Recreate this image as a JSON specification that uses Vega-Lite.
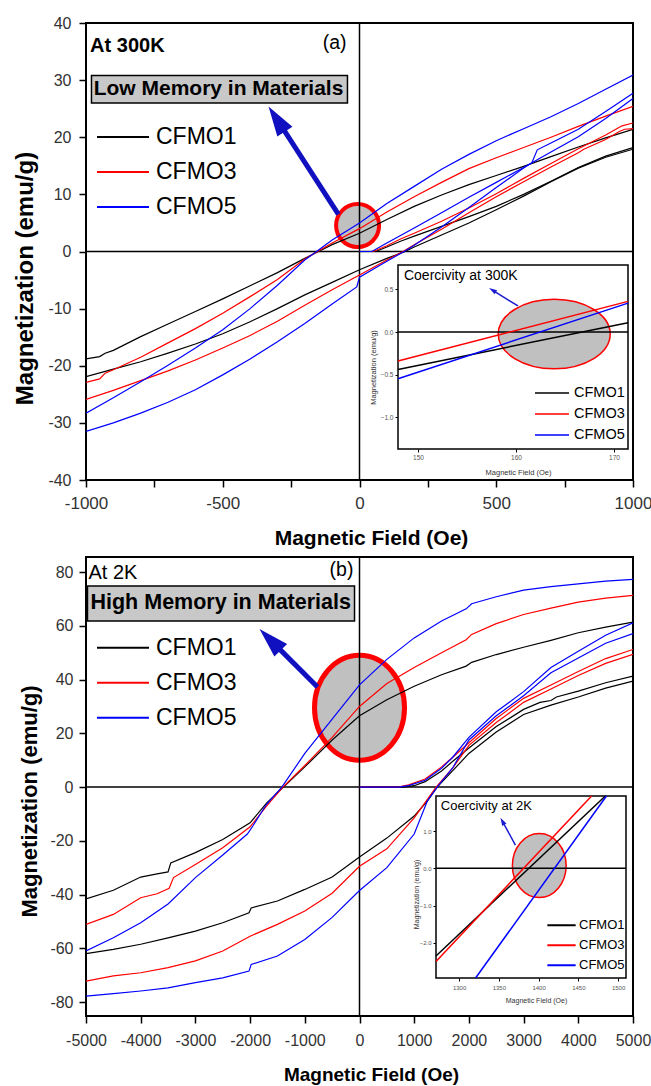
{
 "$schema": "https://vega.github.io/schema/vega-lite/v6.json",
 "background": "white",
 "padding": {"left": 12, "top": 14, "right": 0, "bottom": 0},
 "spacing": 77,
 "bounds": "flush",
 "config": {
  "font": "Liberation Sans",
  "view": {"stroke": "black", "strokeWidth": 2},
  "axis": {"grid": false, "domain": false, "labelFont": "Liberation Sans", "titleFont": "Liberation Sans", "tickColor": "black", "tickWidth": 1.5, "labelColor": "#333333", "titleColor": "#000000", "labelFlush": false, "labelOverlap": false, "labelBound": false},
  "legend": {"labelFont": "Liberation Sans", "labelColor": "black"}
 },
 "datasets": {
  "top": [
   {"s":"CFMO1","b":"u","h":-1000,"m":-18.8},{"s":"CFMO1","b":"u","h":-950,"m":-18.4},{"s":"CFMO1","b":"u","h":-930,"m":-17.8},{"s":"CFMO1","b":"u","h":-900,"m":-17.3},{"s":"CFMO1","b":"u","h":-800,"m":-14.9},{"s":"CFMO1","b":"u","h":-700,"m":-12.7},{"s":"CFMO1","b":"u","h":-600,"m":-10.5},{"s":"CFMO1","b":"u","h":-500,"m":-8.3},{"s":"CFMO1","b":"u","h":-400,"m":-6.0},{"s":"CFMO1","b":"u","h":-300,"m":-3.7},{"s":"CFMO1","b":"u","h":-200,"m":-1.2},{"s":"CFMO1","b":"u","h":-100,"m":1.2},{"s":"CFMO1","b":"u","h":0,"m":3.2},{"s":"CFMO1","b":"u","h":100,"m":5.6},{"s":"CFMO1","b":"u","h":200,"m":7.9},{"s":"CFMO1","b":"u","h":300,"m":9.9},{"s":"CFMO1","b":"u","h":400,"m":11.7},{"s":"CFMO1","b":"u","h":500,"m":13.3},{"s":"CFMO1","b":"u","h":600,"m":14.9},{"s":"CFMO1","b":"u","h":700,"m":16.6},{"s":"CFMO1","b":"u","h":800,"m":18.3},{"s":"CFMO1","b":"u","h":900,"m":19.9},{"s":"CFMO1","b":"u","h":1000,"m":21.4},
   {"s":"CFMO1","b":"l","h":-1000,"m":-21.9},{"s":"CFMO1","b":"l","h":-900,"m":-20.6},{"s":"CFMO1","b":"l","h":-800,"m":-19.3},{"s":"CFMO1","b":"l","h":-700,"m":-17.8},{"s":"CFMO1","b":"l","h":-600,"m":-16.2},{"s":"CFMO1","b":"l","h":-500,"m":-14.4},{"s":"CFMO1","b":"l","h":-400,"m":-12.3},{"s":"CFMO1","b":"l","h":-300,"m":-10.0},{"s":"CFMO1","b":"l","h":-200,"m":-7.6},{"s":"CFMO1","b":"l","h":-100,"m":-5.4},{"s":"CFMO1","b":"l","h":0,"m":-3.2},{"s":"CFMO1","b":"l","h":100,"m":-1.2},{"s":"CFMO1","b":"l","h":167,"m":0},{"s":"CFMO1","b":"l","h":200,"m":0.8},{"s":"CFMO1","b":"l","h":300,"m":2.9},{"s":"CFMO1","b":"l","h":400,"m":5.0},{"s":"CFMO1","b":"l","h":500,"m":7.3},{"s":"CFMO1","b":"l","h":600,"m":9.7},{"s":"CFMO1","b":"l","h":700,"m":12.2},{"s":"CFMO1","b":"l","h":800,"m":14.6},{"s":"CFMO1","b":"l","h":900,"m":16.5},{"s":"CFMO1","b":"l","h":1000,"m":17.9},
   {"s":"CFMO1","b":"v","h":0,"m":0},{"s":"CFMO1","b":"v","h":60,"m":0},{"s":"CFMO1","b":"v","h":100,"m":0.8},{"s":"CFMO1","b":"v","h":150,"m":1.8},{"s":"CFMO1","b":"v","h":200,"m":2.7},{"s":"CFMO1","b":"v","h":300,"m":4.4},{"s":"CFMO1","b":"v","h":400,"m":6.1},{"s":"CFMO1","b":"v","h":500,"m":7.9},{"s":"CFMO1","b":"v","h":600,"m":10.0},{"s":"CFMO1","b":"v","h":700,"m":12.3},{"s":"CFMO1","b":"v","h":800,"m":14.7},{"s":"CFMO1","b":"v","h":900,"m":16.7},{"s":"CFMO1","b":"v","h":1000,"m":18.2},
   {"s":"CFMO3","b":"u","h":-1000,"m":-22.9},{"s":"CFMO3","b":"u","h":-950,"m":-22.3},{"s":"CFMO3","b":"u","h":-930,"m":-21.3},{"s":"CFMO3","b":"u","h":-900,"m":-20.7},{"s":"CFMO3","b":"u","h":-800,"m":-18.5},{"s":"CFMO3","b":"u","h":-700,"m":-16.0},{"s":"CFMO3","b":"u","h":-600,"m":-13.5},{"s":"CFMO3","b":"u","h":-500,"m":-10.8},{"s":"CFMO3","b":"u","h":-400,"m":-7.9},{"s":"CFMO3","b":"u","h":-300,"m":-4.9},{"s":"CFMO3","b":"u","h":-200,"m":-1.3},{"s":"CFMO3","b":"u","h":-100,"m":1.5},{"s":"CFMO3","b":"u","h":0,"m":4.0},{"s":"CFMO3","b":"u","h":100,"m":6.9},{"s":"CFMO3","b":"u","h":200,"m":9.6},{"s":"CFMO3","b":"u","h":300,"m":12.1},{"s":"CFMO3","b":"u","h":400,"m":14.5},{"s":"CFMO3","b":"u","h":500,"m":16.4},{"s":"CFMO3","b":"u","h":600,"m":18.2},{"s":"CFMO3","b":"u","h":700,"m":20.0},{"s":"CFMO3","b":"u","h":800,"m":21.9},{"s":"CFMO3","b":"u","h":900,"m":23.7},{"s":"CFMO3","b":"u","h":1000,"m":25.4},
   {"s":"CFMO3","b":"l","h":-1000,"m":-25.9},{"s":"CFMO3","b":"l","h":-900,"m":-24.3},{"s":"CFMO3","b":"l","h":-800,"m":-22.6},{"s":"CFMO3","b":"l","h":-700,"m":-20.9},{"s":"CFMO3","b":"l","h":-600,"m":-19.0},{"s":"CFMO3","b":"l","h":-500,"m":-16.9},{"s":"CFMO3","b":"l","h":-400,"m":-14.7},{"s":"CFMO3","b":"l","h":-300,"m":-12.2},{"s":"CFMO3","b":"l","h":-200,"m":-9.4},{"s":"CFMO3","b":"l","h":-100,"m":-6.7},{"s":"CFMO3","b":"l","h":0,"m":-4.1},{"s":"CFMO3","b":"l","h":100,"m":-1.5},{"s":"CFMO3","b":"l","h":159,"m":0},{"s":"CFMO3","b":"l","h":200,"m":1.2},{"s":"CFMO3","b":"l","h":300,"m":3.9},{"s":"CFMO3","b":"l","h":400,"m":6.8},{"s":"CFMO3","b":"l","h":500,"m":9.6},{"s":"CFMO3","b":"l","h":600,"m":12.2},{"s":"CFMO3","b":"l","h":700,"m":14.8},{"s":"CFMO3","b":"l","h":800,"m":17.3},{"s":"CFMO3","b":"l","h":820,"m":17.9},{"s":"CFMO3","b":"l","h":900,"m":19.6},{"s":"CFMO3","b":"l","h":950,"m":21.0},{"s":"CFMO3","b":"l","h":970,"m":21.4},{"s":"CFMO3","b":"l","h":1000,"m":21.5},
   {"s":"CFMO3","b":"v","h":0,"m":0},{"s":"CFMO3","b":"v","h":50,"m":0},{"s":"CFMO3","b":"v","h":100,"m":1.0},{"s":"CFMO3","b":"v","h":150,"m":2.2},{"s":"CFMO3","b":"v","h":200,"m":3.2},{"s":"CFMO3","b":"v","h":300,"m":5.3},{"s":"CFMO3","b":"v","h":400,"m":7.6},{"s":"CFMO3","b":"v","h":500,"m":10.1},{"s":"CFMO3","b":"v","h":600,"m":12.8},{"s":"CFMO3","b":"v","h":700,"m":15.4},{"s":"CFMO3","b":"v","h":800,"m":18.0},{"s":"CFMO3","b":"v","h":900,"m":20.4},{"s":"CFMO3","b":"v","h":960,"m":22.0},{"s":"CFMO3","b":"v","h":1000,"m":22.5},
   {"s":"CFMO5","b":"u","h":-1000,"m":-28.3},{"s":"CFMO5","b":"u","h":-900,"m":-25.6},{"s":"CFMO5","b":"u","h":-800,"m":-22.8},{"s":"CFMO5","b":"u","h":-700,"m":-19.9},{"s":"CFMO5","b":"u","h":-600,"m":-16.9},{"s":"CFMO5","b":"u","h":-500,"m":-13.7},{"s":"CFMO5","b":"u","h":-400,"m":-10.0},{"s":"CFMO5","b":"u","h":-300,"m":-5.9},{"s":"CFMO5","b":"u","h":-200,"m":-1.5},{"s":"CFMO5","b":"u","h":-100,"m":2.0},{"s":"CFMO5","b":"u","h":0,"m":5.0},{"s":"CFMO5","b":"u","h":100,"m":8.4},{"s":"CFMO5","b":"u","h":200,"m":11.4},{"s":"CFMO5","b":"u","h":300,"m":14.4},{"s":"CFMO5","b":"u","h":400,"m":17.0},{"s":"CFMO5","b":"u","h":500,"m":19.4},{"s":"CFMO5","b":"u","h":600,"m":21.5},{"s":"CFMO5","b":"u","h":700,"m":23.6},{"s":"CFMO5","b":"u","h":800,"m":25.9},{"s":"CFMO5","b":"u","h":900,"m":28.4},{"s":"CFMO5","b":"u","h":1000,"m":30.9},
   {"s":"CFMO5","b":"l","h":-1000,"m":-31.5},{"s":"CFMO5","b":"l","h":-900,"m":-30.0},{"s":"CFMO5","b":"l","h":-800,"m":-28.3},{"s":"CFMO5","b":"l","h":-700,"m":-26.4},{"s":"CFMO5","b":"l","h":-600,"m":-24.2},{"s":"CFMO5","b":"l","h":-500,"m":-21.6},{"s":"CFMO5","b":"l","h":-400,"m":-18.8},{"s":"CFMO5","b":"l","h":-300,"m":-15.8},{"s":"CFMO5","b":"l","h":-200,"m":-12.6},{"s":"CFMO5","b":"l","h":-100,"m":-9.2},{"s":"CFMO5","b":"l","h":-10,"m":-6.2},{"s":"CFMO5","b":"l","h":0,"m":-4.5},{"s":"CFMO5","b":"l","h":100,"m":-1.7},{"s":"CFMO5","b":"l","h":163,"m":0},{"s":"CFMO5","b":"l","h":200,"m":1.1},{"s":"CFMO5","b":"l","h":300,"m":4.3},{"s":"CFMO5","b":"l","h":400,"m":7.7},{"s":"CFMO5","b":"l","h":500,"m":11.2},{"s":"CFMO5","b":"l","h":600,"m":14.6},{"s":"CFMO5","b":"l","h":630,"m":15.5},{"s":"CFMO5","b":"l","h":650,"m":17.8},{"s":"CFMO5","b":"l","h":700,"m":19.0},{"s":"CFMO5","b":"l","h":800,"m":21.4},{"s":"CFMO5","b":"l","h":900,"m":24.5},{"s":"CFMO5","b":"l","h":1000,"m":27.7},
   {"s":"CFMO5","b":"v","h":0,"m":0},{"s":"CFMO5","b":"v","h":45,"m":0},{"s":"CFMO5","b":"v","h":100,"m":1.5},{"s":"CFMO5","b":"v","h":200,"m":4.1},{"s":"CFMO5","b":"v","h":300,"m":6.8},{"s":"CFMO5","b":"v","h":400,"m":9.5},{"s":"CFMO5","b":"v","h":500,"m":12.1},{"s":"CFMO5","b":"v","h":600,"m":14.7},{"s":"CFMO5","b":"v","h":700,"m":17.4},{"s":"CFMO5","b":"v","h":800,"m":20.1},{"s":"CFMO5","b":"v","h":900,"m":23.3},{"s":"CFMO5","b":"v","h":1000,"m":26.8}
  ],
  "bottom": [
   {"s":"CFMO1","b":"u","h":-5000,"m":-41.6},{"s":"CFMO1","b":"u","h":-4500,"m":-38.4},{"s":"CFMO1","b":"u","h":-4000,"m":-33.5},{"s":"CFMO1","b":"u","h":-3700,"m":-32.3},{"s":"CFMO1","b":"u","h":-3500,"m":-31.6},{"s":"CFMO1","b":"u","h":-3450,"m":-28.2},{"s":"CFMO1","b":"u","h":-3000,"m":-24.4},{"s":"CFMO1","b":"u","h":-2500,"m":-19.5},{"s":"CFMO1","b":"u","h":-2000,"m":-13.3},{"s":"CFMO1","b":"u","h":-1700,"m":-6.0},{"s":"CFMO1","b":"u","h":-1390,"m":0},{"s":"CFMO1","b":"u","h":-1000,"m":7.5},{"s":"CFMO1","b":"u","h":-500,"m":17.5},{"s":"CFMO1","b":"u","h":0,"m":26.5},{"s":"CFMO1","b":"u","h":500,"m":32.5},{"s":"CFMO1","b":"u","h":1000,"m":37.5},{"s":"CFMO1","b":"u","h":1500,"m":41.8},{"s":"CFMO1","b":"u","h":1950,"m":45.0},{"s":"CFMO1","b":"u","h":2050,"m":46.4},{"s":"CFMO1","b":"u","h":2500,"m":49.3},{"s":"CFMO1","b":"u","h":3000,"m":52.0},{"s":"CFMO1","b":"u","h":3500,"m":54.6},{"s":"CFMO1","b":"u","h":4000,"m":57.4},{"s":"CFMO1","b":"u","h":4500,"m":59.5},{"s":"CFMO1","b":"u","h":5000,"m":61.4},
   {"s":"CFMO1","b":"l","h":-5000,"m":-62.0},{"s":"CFMO1","b":"l","h":-4500,"m":-60.4},{"s":"CFMO1","b":"l","h":-4000,"m":-58.5},{"s":"CFMO1","b":"l","h":-3500,"m":-56.1},{"s":"CFMO1","b":"l","h":-3000,"m":-53.6},{"s":"CFMO1","b":"l","h":-2500,"m":-50.5},{"s":"CFMO1","b":"l","h":-2020,"m":-46.8},{"s":"CFMO1","b":"l","h":-1980,"m":-45.0},{"s":"CFMO1","b":"l","h":-1500,"m":-42.4},{"s":"CFMO1","b":"l","h":-1000,"m":-38.1},{"s":"CFMO1","b":"l","h":-500,"m":-33.5},{"s":"CFMO1","b":"l","h":0,"m":-26.0},{"s":"CFMO1","b":"l","h":500,"m":-19.0},{"s":"CFMO1","b":"l","h":1000,"m":-10.8},{"s":"CFMO1","b":"l","h":1240,"m":-5.2},{"s":"CFMO1","b":"l","h":1420,"m":0},{"s":"CFMO1","b":"l","h":1700,"m":6.0},{"s":"CFMO1","b":"l","h":2000,"m":12.5},{"s":"CFMO1","b":"l","h":2500,"m":20.5},{"s":"CFMO1","b":"l","h":3000,"m":27.0},{"s":"CFMO1","b":"l","h":3500,"m":30.5},{"s":"CFMO1","b":"l","h":4000,"m":33.5},{"s":"CFMO1","b":"l","h":4500,"m":36.8},{"s":"CFMO1","b":"l","h":5000,"m":39.4},
   {"s":"CFMO1","b":"v","h":0,"m":0},{"s":"CFMO1","b":"v","h":800,"m":0},{"s":"CFMO1","b":"v","h":1000,"m":0.5},{"s":"CFMO1","b":"v","h":1200,"m":2.0},{"s":"CFMO1","b":"v","h":1500,"m":6.0},{"s":"CFMO1","b":"v","h":1700,"m":9.5},{"s":"CFMO1","b":"v","h":2000,"m":14.5},{"s":"CFMO1","b":"v","h":2500,"m":22.5},{"s":"CFMO1","b":"v","h":3000,"m":28.9},{"s":"CFMO1","b":"v","h":3300,"m":31.5},{"s":"CFMO1","b":"v","h":3500,"m":32.2},{"s":"CFMO1","b":"v","h":3600,"m":33.5},{"s":"CFMO1","b":"v","h":4000,"m":35.7},{"s":"CFMO1","b":"v","h":4500,"m":38.8},{"s":"CFMO1","b":"v","h":5000,"m":41.3},
   {"s":"CFMO3","b":"u","h":-5000,"m":-51.1},{"s":"CFMO3","b":"u","h":-4500,"m":-47.4},{"s":"CFMO3","b":"u","h":-4000,"m":-41.2},{"s":"CFMO3","b":"u","h":-3700,"m":-39.7},{"s":"CFMO3","b":"u","h":-3480,"m":-37.7},{"s":"CFMO3","b":"u","h":-3400,"m":-33.7},{"s":"CFMO3","b":"u","h":-3000,"m":-28.8},{"s":"CFMO3","b":"u","h":-2500,"m":-22.6},{"s":"CFMO3","b":"u","h":-2000,"m":-14.8},{"s":"CFMO3","b":"u","h":-1700,"m":-7.1},{"s":"CFMO3","b":"u","h":-1400,"m":0},{"s":"CFMO3","b":"u","h":-1000,"m":8.0},{"s":"CFMO3","b":"u","h":-500,"m":18.5},{"s":"CFMO3","b":"u","h":0,"m":30.0},{"s":"CFMO3","b":"u","h":500,"m":38.5},{"s":"CFMO3","b":"u","h":1000,"m":44.5},{"s":"CFMO3","b":"u","h":1500,"m":50.0},{"s":"CFMO3","b":"u","h":1950,"m":54.8},{"s":"CFMO3","b":"u","h":2050,"m":56.8},{"s":"CFMO3","b":"u","h":2500,"m":60.8},{"s":"CFMO3","b":"u","h":3000,"m":64.2},{"s":"CFMO3","b":"u","h":3500,"m":66.6},{"s":"CFMO3","b":"u","h":4000,"m":68.8},{"s":"CFMO3","b":"u","h":4500,"m":70.3},{"s":"CFMO3","b":"u","h":5000,"m":71.3},
   {"s":"CFMO3","b":"l","h":-5000,"m":-72.2},{"s":"CFMO3","b":"l","h":-4500,"m":-70.3},{"s":"CFMO3","b":"l","h":-4000,"m":-69.1},{"s":"CFMO3","b":"l","h":-3500,"m":-67.2},{"s":"CFMO3","b":"l","h":-3000,"m":-64.7},{"s":"CFMO3","b":"l","h":-2500,"m":-61.0},{"s":"CFMO3","b":"l","h":-2000,"m":-55.5},{"s":"CFMO3","b":"l","h":-1500,"m":-51.1},{"s":"CFMO3","b":"l","h":-1000,"m":-46.1},{"s":"CFMO3","b":"l","h":-500,"m":-39.5},{"s":"CFMO3","b":"l","h":0,"m":-29.5},{"s":"CFMO3","b":"l","h":500,"m":-23.0},{"s":"CFMO3","b":"l","h":1000,"m":-11.5},{"s":"CFMO3","b":"l","h":1400,"m":0},{"s":"CFMO3","b":"l","h":1700,"m":7.0},{"s":"CFMO3","b":"l","h":2000,"m":15.5},{"s":"CFMO3","b":"l","h":2500,"m":24.0},{"s":"CFMO3","b":"l","h":3000,"m":31.5},{"s":"CFMO3","b":"l","h":3500,"m":36.5},{"s":"CFMO3","b":"l","h":4000,"m":41.5},{"s":"CFMO3","b":"l","h":4500,"m":46.0},{"s":"CFMO3","b":"l","h":5000,"m":49.4},
   {"s":"CFMO3","b":"v","h":0,"m":0},{"s":"CFMO3","b":"v","h":700,"m":0},{"s":"CFMO3","b":"v","h":900,"m":0.8},{"s":"CFMO3","b":"v","h":1200,"m":3.0},{"s":"CFMO3","b":"v","h":1500,"m":7.5},{"s":"CFMO3","b":"v","h":1700,"m":11.0},{"s":"CFMO3","b":"v","h":2000,"m":16.5},{"s":"CFMO3","b":"v","h":2500,"m":25.5},{"s":"CFMO3","b":"v","h":3000,"m":33.0},{"s":"CFMO3","b":"v","h":3500,"m":38.0},{"s":"CFMO3","b":"v","h":4000,"m":43.0},{"s":"CFMO3","b":"v","h":4500,"m":47.8},{"s":"CFMO3","b":"v","h":5000,"m":51.2},
   {"s":"CFMO5","b":"u","h":-5000,"m":-61.0},{"s":"CFMO5","b":"u","h":-4500,"m":-56.1},{"s":"CFMO5","b":"u","h":-4000,"m":-50.5},{"s":"CFMO5","b":"u","h":-3500,"m":-43.5},{"s":"CFMO5","b":"u","h":-3000,"m":-33.7},{"s":"CFMO5","b":"u","h":-2500,"m":-25.3},{"s":"CFMO5","b":"u","h":-2050,"m":-17.5},{"s":"CFMO5","b":"u","h":-1950,"m":-14.5},{"s":"CFMO5","b":"u","h":-1700,"m":-6.4},{"s":"CFMO5","b":"u","h":-1420,"m":0},{"s":"CFMO5","b":"u","h":-1000,"m":12.5},{"s":"CFMO5","b":"u","h":-500,"m":25.3},{"s":"CFMO5","b":"u","h":0,"m":38.0},{"s":"CFMO5","b":"u","h":500,"m":47.5},{"s":"CFMO5","b":"u","h":1000,"m":55.5},{"s":"CFMO5","b":"u","h":1500,"m":61.8},{"s":"CFMO5","b":"u","h":1950,"m":66.3},{"s":"CFMO5","b":"u","h":2050,"m":68.2},{"s":"CFMO5","b":"u","h":2500,"m":70.8},{"s":"CFMO5","b":"u","h":3000,"m":73.3},{"s":"CFMO5","b":"u","h":3500,"m":74.6},{"s":"CFMO5","b":"u","h":4000,"m":75.6},{"s":"CFMO5","b":"u","h":4500,"m":76.6},{"s":"CFMO5","b":"u","h":5000,"m":77.3},
   {"s":"CFMO5","b":"l","h":-5000,"m":-77.8},{"s":"CFMO5","b":"l","h":-4500,"m":-76.9},{"s":"CFMO5","b":"l","h":-4000,"m":-75.9},{"s":"CFMO5","b":"l","h":-3500,"m":-74.7},{"s":"CFMO5","b":"l","h":-3000,"m":-72.8},{"s":"CFMO5","b":"l","h":-2500,"m":-71.0},{"s":"CFMO5","b":"l","h":-2020,"m":-68.5},{"s":"CFMO5","b":"l","h":-1980,"m":-66.0},{"s":"CFMO5","b":"l","h":-1500,"m":-62.9},{"s":"CFMO5","b":"l","h":-1000,"m":-56.7},{"s":"CFMO5","b":"l","h":-500,"m":-48.5},{"s":"CFMO5","b":"l","h":0,"m":-38.5},{"s":"CFMO5","b":"l","h":500,"m":-30.0},{"s":"CFMO5","b":"l","h":1000,"m":-17.5},{"s":"CFMO5","b":"l","h":1240,"m":-5.2},{"s":"CFMO5","b":"l","h":1420,"m":0},{"s":"CFMO5","b":"l","h":1700,"m":7.0},{"s":"CFMO5","b":"l","h":2000,"m":17.5},{"s":"CFMO5","b":"l","h":2500,"m":26.5},{"s":"CFMO5","b":"l","h":3000,"m":34.0},{"s":"CFMO5","b":"l","h":3500,"m":42.5},{"s":"CFMO5","b":"l","h":4000,"m":48.0},{"s":"CFMO5","b":"l","h":4500,"m":53.5},{"s":"CFMO5","b":"l","h":5000,"m":57.1},
   {"s":"CFMO5","b":"v","h":0,"m":0},{"s":"CFMO5","b":"v","h":713,"m":0},{"s":"CFMO5","b":"v","h":900,"m":0.5},{"s":"CFMO5","b":"v","h":1200,"m":2.5},{"s":"CFMO5","b":"v","h":1500,"m":7.0},{"s":"CFMO5","b":"v","h":1700,"m":11.0},{"s":"CFMO5","b":"v","h":2000,"m":18.5},{"s":"CFMO5","b":"v","h":2500,"m":28.0},{"s":"CFMO5","b":"v","h":3000,"m":35.5},{"s":"CFMO5","b":"v","h":3500,"m":44.5},{"s":"CFMO5","b":"v","h":4000,"m":50.5},{"s":"CFMO5","b":"v","h":4500,"m":56.5},{"s":"CFMO5","b":"v","h":5000,"m":61.1}
  ],
  "topInset": [
   {"s":"CFMO1","h":147.96,"m":-0.44},{"s":"CFMO1","h":171.43,"m":0.11},
   {"s":"CFMO3","h":147.96,"m":-0.34},{"s":"CFMO3","h":171.43,"m":0.36},
   {"s":"CFMO5","h":147.96,"m":-0.55},{"s":"CFMO5","h":171.43,"m":0.34}
  ],
  "botInset": [
   {"s":"CFMO1","h":1271,"m":-2.35},{"s":"CFMO1","h":1484,"m":1.94},
   {"s":"CFMO3","h":1271,"m":-2.50},{"s":"CFMO3","h":1466.7,"m":1.94},
   {"s":"CFMO5","h":1320.8,"m":-2.94},{"s":"CFMO5","h":1485.4,"m":1.94}
  ]
 },
 "resolve": {"scale": {"color": "independent", "x": "independent", "y": "independent"}},
 "vconcat": [
  {
   "width": 547, "height": 457,
   "resolve": {"scale": {"x": "independent", "y": "independent", "color": "independent"}},
   "layer": [
    {
     "layer": [
      {"data": {"values": [{}]}, "mark": {"type": "point", "shape": "circle", "size": 1849, "filled": true, "fill": "#c0c0c0", "stroke": "#ff0000", "strokeWidth": 4, "opacity": 1},
       "encoding": {
        "x": {"datum": -7, "type": "quantitative", "scale": {"domain": [-1000, 1000], "nice": false, "zero": false},
          "axis": {"values": [-1000,-750,-500,-250,0,250,500,750,1000], "labelExpr": "datum.value % 500 === 0 ? '' + datum.value : ''", "title": "Magnetic Field (Oe)", "titleFontSize": 21, "titleFontWeight": "bold", "titleX": 285, "titleY": 58, "titleBaseline": "middle", "labelFontSize": 17, "labelPadding": 8, "tickSize": 7}},
        "y": {"datum": 4.55, "type": "quantitative", "scale": {"domain": [-40, 40], "nice": false, "zero": false},
          "axis": {"values": [-40,-35,-30,-25,-20,-15,-10,-5,0,5,10,15,20,25,30,35,40], "labelExpr": "datum.value % 10 === 0 ? '' + datum.value : ''", "title": "Magnetization (emu/g)", "titleFontSize": 24, "titleFontWeight": "bold", "titleX": -61, "titleY": 255, "titleBaseline": "middle", "titleAngle": 270, "labelFontSize": 16, "labelPadding": 8, "tickSize": 7}}
       }},
      {"data": {"values": [{}]}, "mark": {"type": "rule", "color": "black", "strokeWidth": 1.5}, "encoding": {"x": {"datum": 0, "type": "quantitative"}}},
      {"data": {"values": [{}]}, "mark": {"type": "rule", "color": "black", "strokeWidth": 1.5}, "encoding": {"y": {"datum": 0, "type": "quantitative"}}},
      {"data": {"name": "top"}, "mark": {"type": "line", "strokeWidth": 1.2, "clip": true},
       "encoding": {
        "x": {"field": "h", "type": "quantitative", "title": "Magnetic Field (Oe)"},
        "y": {"field": "m", "type": "quantitative", "title": "Magnetization (emu/g)"},
        "color": {"field": "s", "type": "nominal", "scale": {"domain": ["CFMO1","CFMO3","CFMO5"], "range": ["#000000","#ff0000","#0000ff"]},
          "legend": {"orient": "none", "legendX": 10, "legendY": 96.75, "title": null, "symbolType": "stroke", "symbolSize": 2704, "symbolStrokeWidth": 2, "clipHeight": 34.5, "rowPadding": 0, "padding": 0, "labelFontSize": 23, "labelOffset": 6, "symbolOffset": 0}},
        "detail": {"field": "b"}
       }},
      {"data": {"values": [{}]}, "mark": {"type": "rule", "color": "#1010c0", "strokeWidth": 5},
       "encoding": {"x": {"datum": -77, "type": "quantitative"}, "y": {"datum": 6.5, "type": "quantitative"}, "x2": {"datum": -302.7}, "y2": {"datum": 23.2}}},
      {"data": {"values": [{}]}, "mark": {"type": "point", "shape": "M0,-1L0.6,1L-0.6,1Z", "size": 900, "angle": 327, "filled": true, "color": "#1010c0", "opacity": 1, "strokeWidth": 0},
       "encoding": {"x": {"datum": -302.7, "type": "quantitative"}, "y": {"datum": 23.2, "type": "quantitative"}}},
      {"data": {"values": [{}]}, "mark": {"type": "rect", "fill": "#c8c8c8", "stroke": "black", "strokeWidth": 1.5},
       "encoding": {"x": {"datum": -980, "type": "quantitative"}, "x2": {"datum": -44}, "y": {"datum": 30.8, "type": "quantitative"}, "y2": {"datum": 26.0}}},
      {"data": {"values": [{}]}, "mark": {"type": "text", "text": "Low Memory in Materials", "align": "left", "baseline": "middle", "fontSize": 21, "fontWeight": "bold", "color": "black"},
       "encoding": {"x": {"datum": -972, "type": "quantitative"}, "y": {"datum": 28.4, "type": "quantitative"}}},
      {"data": {"values": [{}]}, "mark": {"type": "text", "text": "At 300K", "align": "left", "baseline": "middle", "fontSize": 20, "fontWeight": "bold", "color": "black"},
       "encoding": {"x": {"datum": -985, "type": "quantitative"}, "y": {"datum": 35.9, "type": "quantitative"}}},
      {"data": {"values": [{}]}, "mark": {"type": "text", "text": "(a)", "align": "center", "baseline": "middle", "fontSize": 19.5, "color": "black"},
       "encoding": {"x": {"datum": -91, "type": "quantitative"}, "y": {"datum": 36.5, "type": "quantitative"}}}
     ]
    },
    {
     "layer": [
      {"data": {"values": [{}]}, "mark": {"type": "rect", "fill": "white", "stroke": "black", "strokeWidth": 1.5},
       "encoding": {
        "x": {"datum": 147.96, "type": "quantitative", "scale": {"domain": [147.96, 171.43], "range": [312, 542], "nice": false, "zero": false},
          "axis": {"orient": "bottom", "offset": -31, "values": [150,160,170], "labelFontSize": 6.5, "labelPadding": 2, "tickSize": 3, "tickWidth": 1, "labelColor": "#555555", "title": "Magnetic Field (Oe)", "titleFontSize": 7.5, "titleFontWeight": "normal", "titleColor": "#333333", "titleX": 432, "titleY": 23, "titleBaseline": "middle"}},
        "x2": {"datum": 171.43},
        "y": {"datum": -1.376, "type": "quantitative", "scale": {"domain": [-1.376, 0.788], "range": [426, 242], "nice": false, "zero": false},
          "axis": {"orient": "left", "offset": -312, "values": [-1,-0.5,0,0.5], "format": ".1f", "labelFontSize": 6.5, "labelPadding": 2, "tickSize": 3, "tickWidth": 1, "labelColor": "#555555", "title": "Magnetization (emu/g)", "titleFontSize": 7.5, "titleFontWeight": "normal", "titleColor": "#333333", "titleX": -25, "titleY": 344, "titleBaseline": "middle", "titleAngle": 270}},
        "y2": {"datum": 0.788}
       }},
      {"data": {"values": [{}]}, "mark": {"type": "point", "shape": "M-1,0A1,0.62,0,1,1,1,0A1,0.62,0,1,1,-1,0Z", "size": 12544, "filled": true, "fill": "#c0c0c0", "stroke": "#ff0000", "strokeWidth": 1.5, "opacity": 1},
       "encoding": {"x": {"datum": 163.9, "type": "quantitative"}, "y": {"datum": -0.024, "type": "quantitative"}}},
      {"data": {"values": [{}]}, "mark": {"type": "rule", "color": "black", "strokeWidth": 1.5},
       "encoding": {"x": {"datum": 147.96, "type": "quantitative"}, "x2": {"datum": 171.43}, "y": {"datum": 0, "type": "quantitative"}}},
      {"data": {"name": "topInset"}, "mark": {"type": "line", "strokeWidth": 1.5},
       "encoding": {
        "x": {"field": "h", "type": "quantitative", "title": "Magnetic Field (Oe)"},
        "y": {"field": "m", "type": "quantitative", "title": "Magnetization (emu/g)"},
        "color": {"field": "s", "type": "nominal", "scale": {"domain": ["CFMO1","CFMO3","CFMO5"], "range": ["#000000","#ff0000","#0000ff"]},
          "legend": {"orient": "none", "legendX": 448, "legendY": 359.75, "title": null, "symbolType": "stroke", "symbolSize": 1156, "symbolStrokeWidth": 1.5, "clipHeight": 20.5, "rowPadding": 0, "padding": 0, "labelFontSize": 14.5, "labelOffset": 4, "symbolOffset": 0}}
       }},
      {"data": {"values": [{}]}, "mark": {"type": "rule", "color": "#1a1ad0", "strokeWidth": 1.5},
       "encoding": {"x": {"datum": 160.2, "type": "quantitative"}, "y": {"datum": 0.306, "type": "quantitative"}, "x2": {"datum": 157.6}, "y2": {"datum": 0.493}}},
      {"data": {"values": [{}]}, "mark": {"type": "point", "shape": "M0,-1L0.6,1L-0.6,1Z", "size": 64, "angle": 302, "filled": true, "color": "#1a1ad0", "opacity": 1, "strokeWidth": 0},
       "encoding": {"x": {"datum": 157.6, "type": "quantitative"}, "y": {"datum": 0.493, "type": "quantitative"}}},
      {"data": {"values": [{}]}, "mark": {"type": "text", "text": "Coercivity at 300K", "align": "left", "baseline": "middle", "fontSize": 14, "color": "black"},
       "encoding": {"x": {"datum": 148.57, "type": "quantitative"}, "y": {"datum": 0.659, "type": "quantitative"}}}
     ]
    }
   ]
  },
  {
   "width": 547, "height": 459,
   "resolve": {"scale": {"x": "independent", "y": "independent", "color": "independent"}},
   "layer": [
    {
     "layer": [
      {"data": {"values": [{}]}, "mark": {"type": "point", "shape": "M0,-1A0.857,1,0,1,1,0,1A0.857,1,0,1,1,0,-1Z", "size": 11025, "filled": true, "fill": "#c0c0c0", "stroke": "#ff0000", "strokeWidth": 5, "opacity": 1},
       "encoding": {
        "x": {"datum": 0, "type": "quantitative", "scale": {"domain": [-5000, 5000], "nice": false, "zero": false},
          "axis": {"values": [-5000,-4500,-4000,-3500,-3000,-2500,-2000,-1500,-1000,-500,0,500,1000,1500,2000,2500,3000,3500,4000,4500,5000], "labelExpr": "datum.value % 1000 === 0 ? '' + datum.value : ''", "title": "Magnetic Field (Oe)", "titleFontSize": 19, "titleFontWeight": "bold", "titleX": 285, "titleY": 58, "titleBaseline": "middle", "labelFontSize": 16, "labelPadding": 9, "tickSize": 7}},
        "y": {"datum": 29.5, "type": "quantitative", "scale": {"domain": [-85.2, 85.6], "nice": false, "zero": false},
          "axis": {"values": [-80,-70,-60,-50,-40,-30,-20,-10,0,10,20,30,40,50,60,70,80], "labelExpr": "datum.value % 20 === 0 ? '' + datum.value : ''", "title": "Magnetization (emu/g)", "titleFontSize": 22, "titleFontWeight": "bold", "titleX": -56.6, "titleY": 244, "titleBaseline": "middle", "titleAngle": 270, "labelFontSize": 16, "labelPadding": 6, "tickSize": 7}}
       }},
      {"data": {"values": [{}]}, "mark": {"type": "rule", "color": "black", "strokeWidth": 1.5}, "encoding": {"x": {"datum": 0, "type": "quantitative"}}},
      {"data": {"values": [{}]}, "mark": {"type": "rule", "color": "black", "strokeWidth": 1.5}, "encoding": {"y": {"datum": 0, "type": "quantitative"}}},
      {"data": {"name": "bottom"}, "mark": {"type": "line", "strokeWidth": 1.2, "clip": true},
       "encoding": {
        "x": {"field": "h", "type": "quantitative", "title": "Magnetic Field (Oe)"},
        "y": {"field": "m", "type": "quantitative", "title": "Magnetization (emu/g)"},
        "color": {"field": "s", "type": "nominal", "scale": {"domain": ["CFMO1","CFMO3","CFMO5"], "range": ["#000000","#ff0000","#0000ff"]},
          "legend": {"orient": "none", "legendX": 10, "legendY": 73.6, "title": null, "symbolType": "stroke", "symbolSize": 2704, "symbolStrokeWidth": 2, "clipHeight": 34.2, "rowPadding": 0, "padding": 0, "labelFontSize": 23, "labelOffset": 6, "symbolOffset": 0}},
        "detail": {"field": "b"}
       }},
      {"data": {"values": [{}]}, "mark": {"type": "rule", "color": "#1010c0", "strokeWidth": 5},
       "encoding": {"x": {"datum": -768, "type": "quantitative"}, "y": {"datum": 37.2, "type": "quantitative"}, "x2": {"datum": -1634}, "y2": {"datum": 54.85}}},
      {"data": {"values": [{}]}, "mark": {"type": "point", "shape": "M0,-1L0.6,1L-0.6,1Z", "size": 900, "angle": 315, "filled": true, "color": "#1010c0", "opacity": 1, "strokeWidth": 0},
       "encoding": {"x": {"datum": -1634, "type": "quantitative"}, "y": {"datum": 54.85, "type": "quantitative"}}},
      {"data": {"values": [{}]}, "mark": {"type": "rect", "fill": "#c8c8c8", "stroke": "black", "strokeWidth": 1.5},
       "encoding": {"x": {"datum": -4973, "type": "quantitative"}, "x2": {"datum": -91}, "y": {"datum": 74.8, "type": "quantitative"}, "y2": {"datum": 61.8}}},
      {"data": {"values": [{}]}, "mark": {"type": "text", "text": "High Memory in Materials", "align": "left", "baseline": "middle", "fontSize": 21.5, "fontWeight": "bold", "color": "black"},
       "encoding": {"x": {"datum": -4918, "type": "quantitative"}, "y": {"datum": 68.3, "type": "quantitative"}}},
      {"data": {"values": [{}]}, "mark": {"type": "text", "text": "At 2K", "align": "left", "baseline": "middle", "fontSize": 20, "color": "black"},
       "encoding": {"x": {"datum": -4954, "type": "quantitative"}, "y": {"datum": 79.6, "type": "quantitative"}}},
      {"data": {"values": [{}]}, "mark": {"type": "text", "text": "(b)", "align": "center", "baseline": "middle", "fontSize": 19.5, "color": "black"},
       "encoding": {"x": {"datum": -329, "type": "quantitative"}, "y": {"datum": 80.7, "type": "quantitative"}}}
     ]
    },
    {
     "layer": [
      {"data": {"values": [{}]}, "mark": {"type": "rect", "fill": "white", "stroke": "black", "strokeWidth": 1.5},
       "encoding": {
        "x": {"datum": 1271, "type": "quantitative", "scale": {"domain": [1271, 1510], "range": [350, 540], "nice": false, "zero": false},
          "axis": {"orient": "bottom", "offset": -38, "values": [1300,1350,1400,1450,1500], "format": "d", "labelFontSize": 6, "labelPadding": 3, "tickSize": 3, "tickWidth": 1, "labelColor": "#555555", "title": "Magnetic Field (Oe)", "titleFontSize": 7, "titleFontWeight": "normal", "titleColor": "#333333", "titleX": 450, "titleY": 22, "titleBaseline": "middle"}},
        "x2": {"datum": 1510},
        "y": {"datum": -2.94, "type": "quantitative", "scale": {"domain": [-2.94, 1.94], "range": [421, 239], "nice": false, "zero": false},
          "axis": {"orient": "left", "offset": -350, "values": [-2,-1,0,1], "labelFontSize": 6, "labelPadding": 2, "tickSize": 3, "tickWidth": 1, "labelColor": "#555555", "title": "Magnetization (emu/g)", "titleFontSize": 7, "titleFontWeight": "normal", "titleColor": "#333333", "titleX": -20, "titleY": 337, "titleBaseline": "middle", "titleAngle": 270}},
        "y2": {"datum": 1.94}
       }},
      {"data": {"values": [{}]}, "mark": {"type": "point", "shape": "M0,-1A0.84,1,0,1,1,0,1A0.84,1,0,1,1,0,-1Z", "size": 4096, "filled": true, "fill": "#c0c0c0", "stroke": "#ff0000", "strokeWidth": 1.5, "opacity": 1},
       "encoding": {"x": {"datum": 1400.9, "type": "quantitative"}, "y": {"datum": 0.075, "type": "quantitative"}}},
      {"data": {"values": [{}]}, "mark": {"type": "rule", "color": "black", "strokeWidth": 1.5},
       "encoding": {"x": {"datum": 1271, "type": "quantitative"}, "x2": {"datum": 1510}, "y": {"datum": 0, "type": "quantitative"}}},
      {"data": {"name": "botInset"}, "mark": {"type": "line", "strokeWidth": 1.5},
       "encoding": {
        "x": {"field": "h", "type": "quantitative", "title": "Magnetic Field (Oe)"},
        "y": {"field": "m", "type": "quantitative", "title": "Magnetization (emu/g)"},
        "color": {"field": "s", "type": "nominal", "scale": {"domain": ["CFMO1","CFMO3","CFMO5"], "range": ["#000000","#ff0000","#0000ff"]},
          "legend": {"orient": "none", "legendX": 460, "legendY": 358.4, "title": null, "symbolType": "stroke", "symbolSize": 800, "symbolStrokeWidth": 2, "clipHeight": 19.65, "rowPadding": 0, "padding": 0, "labelFontSize": 13, "labelOffset": 2, "symbolOffset": 0}}
       }},
      {"data": {"values": [{}]}, "mark": {"type": "rule", "color": "#1a1ad0", "strokeWidth": 1.5},
       "encoding": {"x": {"datum": 1370.9, "type": "quantitative"}, "y": {"datum": 0.625, "type": "quantitative"}, "x2": {"datum": 1354.5}, "y2": {"datum": 1.263}}},
      {"data": {"values": [{}]}, "mark": {"type": "point", "shape": "M0,-1L0.6,1L-0.6,1Z", "size": 64, "angle": 331, "filled": true, "color": "#1a1ad0", "opacity": 1, "strokeWidth": 0},
       "encoding": {"x": {"datum": 1354.5, "type": "quantitative"}, "y": {"datum": 1.263, "type": "quantitative"}}},
      {"data": {"values": [{}]}, "mark": {"type": "text", "text": "Coercivity at 2K", "align": "left", "baseline": "middle", "fontSize": 13, "color": "black"},
       "encoding": {"x": {"datum": 1277, "type": "quantitative"}, "y": {"datum": 1.67, "type": "quantitative"}}}
     ]
    }
   ]
  }
 ]
}
